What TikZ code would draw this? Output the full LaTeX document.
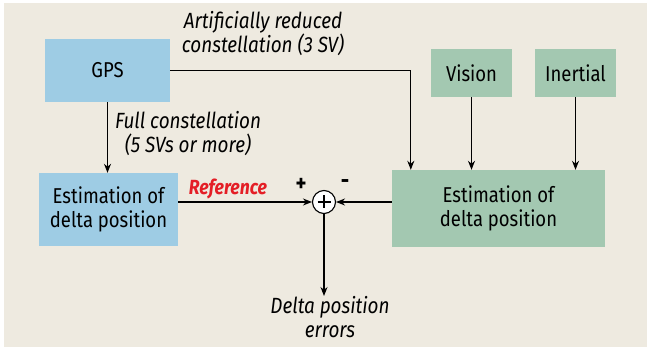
\documentclass[tikz,border=0pt]{standalone}
\usepackage{fontspec}
\setmainfont{Fira Sans}[FakeStretch=0.86]
\usetikzlibrary{arrows.meta, positioning, calc}

\definecolor{paper}{HTML}{EEEAE0}
\definecolor{gpsblue}{HTML}{9ECCE4}
\definecolor{fusegreen}{HTML}{A3C8B1}
\definecolor{refred}{HTML}{E41E26}

\begin{document}
\begin{tikzpicture}[
    x=1pt, y=-1pt,
    block/.style={
        rectangle,
        inner sep=0pt,
        align=center,
        font=\fontsize{21.5}{24}\selectfont
    },
    label/.style={align=center, inner sep=0pt, font=\fontsize{22}{24}\selectfont\itshape},
    sign/.style={inner sep=0pt, font=\fontsize{24}{24}\selectfont\bfseries},
    arrow/.style={-{Stealth[length=9pt, width=7pt]}, line width=1.1pt}
]

% page and paper
\useasboundingbox (0,0) rectangle (647,347);
\fill[white] (0,0) rectangle (647,347);
\fill[paper] (4,3) rectangle (647,347);

% sensors
\node[block, fill=gpsblue, minimum width=125pt, minimum height=63pt] (gps) at (107.5,70.5) {GPS};
\node[block, fill=fusegreen, minimum width=81pt, minimum height=48pt] (vision) at (471.5,73) {Vision};
\node[block, fill=fusegreen, minimum width=81pt, minimum height=48pt] (inertial) at (575.5,73) {Inertial};

% estimators
\node[block, fill=gpsblue, minimum width=139pt, minimum height=73pt] (estgps) at (108.5,209.5) {Estimation of\\delta position};
\node[block, fill=fusegreen, minimum width=213pt, minimum height=77pt] (estfuse) at (498.5,208.5) {Estimation of\\delta position};

% comparison
\node[circle, draw, fill=white, line width=1.1pt, minimum size=23pt, inner sep=0pt] (sum) at (324,202) {};
\draw[line width=1.3pt] ($(sum)+(-6.5,0)$) -- ($(sum)+(6.5,0)$);
\draw[line width=1.3pt] ($(sum)+(0,-6.5)$) -- ($(sum)+(0,6.5)$);
\node[sign] (plus) at (301,185) {+};
\node[sign] (minus) at (345,184) {-};

\node[label, anchor=north] (errors) at (330,296) {Delta position\\errors};

% labels on the links
\node[label] (reduced) at (263,34) {Artificially reduced\\constellation (3 SV)};
\node[label] (full) at (188,134) {Full constellation\\(5 SVs or more)};
\node[inner sep=0pt, text=refred, font=\fontsize{20.5}{20.5}\selectfont\bfseries\itshape] (ref) at (228,189) {Reference};

% links
\draw[arrow] (gps.east) -| ($(estfuse.north west)+(19,0)$);
\draw[arrow] (vision.south) -- (vision.south |- estfuse.north);
\draw[arrow] (inertial.south) -- (inertial.south |- estfuse.north);
\draw[arrow] (gps.south) -- (gps.south |- estgps.north);
\draw[arrow] (estgps.east |- sum) -- (sum.west);
\draw[arrow] (estfuse.west |- sum) -- (sum.east);
\draw[arrow] (sum.south) -- (sum.south |- errors.north);

\end{tikzpicture}
\end{document}
